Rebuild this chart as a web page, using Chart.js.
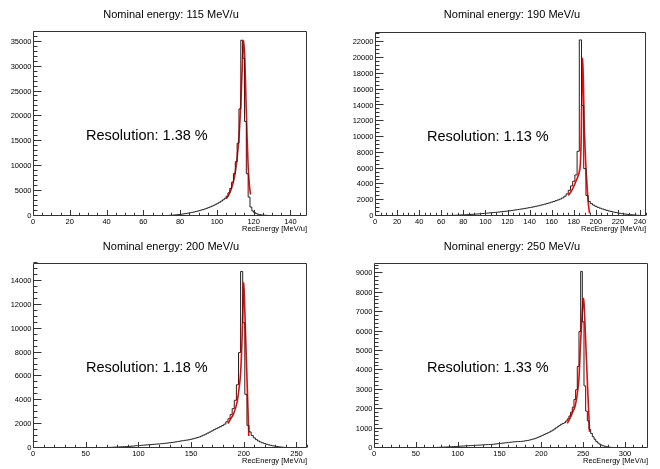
<!DOCTYPE html>
<html>
<head>
<meta charset="utf-8">
<script src="https://cdn.jsdelivr.net/npm/chart.js@4.4.0/dist/chart.umd.min.js"></script>
<style>
  html, body { margin: 0; padding: 0; background: #fff; }
  body { width: 660px; height: 469px; position: relative; overflow: hidden;
         font-family: "Liberation Sans", Arial, Helvetica, sans-serif; color: #000; }
  .pad { position: absolute; width: 330px; }
  .pad canvas { position: absolute; left: 0; top: 0; }
  .title { position: absolute; font-size: 11px; line-height: 13px; white-space: nowrap; transform: translateX(-50%); }
  .res { position: absolute; font-size: 14.5px; line-height: 17px; white-space: nowrap; }
</style>
</head>
<body>

<div class="pad" style="left:0;top:0;height:234px">
  <canvas id="pad1" width="330" height="234"></canvas>
  <div class="title" style="left:171px;top:8px">Nominal energy: 115 MeV/u</div>
  <div class="res" style="left:86px;top:127px">Resolution: 1.38 %</div>
</div>
<div class="pad" style="left:330px;top:0;height:234px">
  <canvas id="pad2" width="330" height="234"></canvas>
  <div class="title" style="left:182px;top:8px">Nominal energy: 190 MeV/u</div>
  <div class="res" style="left:97px;top:128px">Resolution: 1.13 %</div>
</div>
<div class="pad" style="left:0;top:234px;height:235px">
  <canvas id="pad3" width="330" height="235"></canvas>
  <div class="title" style="left:171px;top:6px">Nominal energy: 200 MeV/u</div>
  <div class="res" style="left:86px;top:125px">Resolution: 1.18 %</div>
</div>
<div class="pad" style="left:330px;top:234px;height:235px">
  <canvas id="pad4" width="330" height="235"></canvas>
  <div class="title" style="left:182px;top:6px">Nominal energy: 250 MeV/u</div>
  <div class="res" style="left:97px;top:125px">Resolution: 1.33 %</div>
</div>

<script>
// --- 115 MeV/u : bins of 1 MeV/u starting at 66
const e115Start = 66, e115Bin = 1;
const e115Counts = [
  10, 15, 25, 35, 55, 65, 80, 95, 115, 135,
  160, 190, 220, 260, 300, 345, 395, 450, 510, 575,
  645, 720, 800, 885, 975, 1075, 1180, 1290, 1410, 1540,
  1680, 1830, 1990, 2160, 2350, 2550, 2760, 2990, 3240, 3550,
  3950, 4650, 5550, 6800, 8500, 10900, 14600, 21500, 35300, 31700,
  19000, 8500, 3800, 1800, 1000, 680, 480, 350, 270, 210,
  170, 140, 115, 95, 80, 68, 57, 48, 40, 33,
  27, 22, 17, 12
];
const e115FitE = [105, 106, 107, 108, 109, 110, 111, 112, 113, 113.8, 114.5, 115.2, 115.8, 116.4, 117, 117.6, 118.3];
const e115FitY = [3450, 3950, 4650, 5600, 6900, 8800, 11600, 15800, 22500, 30000, 35300, 31500, 23500, 16000, 10000, 6500, 4300];

// --- 190 MeV/u : bins of 2 MeV/u starting at 59
const e190Start = 59, e190Bin = 2;
const e190Counts = [
  20, 30, 40, 50, 60, 70, 80, 90, 100, 115,
  130, 145, 160, 175, 190, 210, 230, 250, 270, 295,
  320, 345, 370, 395, 420, 445, 470, 500, 530, 560,
  590, 625, 660, 700, 740, 780, 820, 865, 910, 960,
  1010, 1060, 1110, 1170, 1230, 1290, 1360, 1430, 1500, 1580,
  1660, 1750, 1840, 1940, 2040, 2150, 2280, 2500, 2800, 3250,
  3800, 4400, 5200, 8200, 22300, 14000, 6000, 2600, 1850, 1560,
  1380, 1230, 1100, 990, 890, 800, 715, 640, 570, 505,
  445, 390, 340, 295, 255, 220, 190, 160, 135, 110,
  90, 70, 50
];
const e190FitE = [175, 178, 180.5, 182.6, 184, 185, 186, 186.8, 187.5, 188, 188.6, 189.4, 190.4, 191.4, 192.4, 193.4, 194.3];
const e190FitY = [2600, 3200, 3900, 4600, 5100, 5600, 6700, 10400, 16800, 20000, 17500, 12000, 8000, 5200, 3000, 1300, 340];

// --- 200 MeV/u : bins of 2 MeV/u starting at 61
const e200Start = 61, e200Bin = 2;
const e200Counts = [
  10, 20, 30, 35, 40, 45, 50, 55, 65, 75,
  80, 90, 100, 110, 120, 130, 140, 155, 170, 190,
  200, 215, 230, 245, 260, 270, 285, 300, 320, 330,
  345, 360, 380, 400, 420, 440, 460, 490, 520, 550,
  580, 610, 640, 660, 690, 730, 770, 820, 870, 920,
  1000, 1080, 1160, 1250, 1340, 1430, 1530, 1620, 1700, 1790,
  1880, 2000, 2200, 2450, 2800, 3300, 4000, 5300, 8000, 14800,
  10500, 4500, 1900, 1350, 1050, 850, 700, 590, 500, 430,
  370, 310, 260, 220, 180, 150, 120, 95, 75, 58,
  45, 32, 22, 12
];
const e200FitE = [185, 188, 190, 192, 194, 195.5, 197, 198.5, 199.4, 200, 200.8, 201.8, 202.8, 203.8, 204.8];
const e200FitY = [2040, 2500, 2800, 3300, 4000, 5000, 6300, 9500, 12500, 13900, 12000, 9250, 6500, 3750, 1000];

// --- 250 MeV/u : bins of 2 MeV/u starting at 61
const e250Start = 61, e250Bin = 2;
const e250Counts = [
  10, 12, 15, 18, 20, 22, 25, 28, 30, 35,
  38, 42, 46, 50, 55, 60, 65, 70, 75, 80,
  85, 90, 95, 100, 105, 110, 115, 120, 125, 130,
  135, 140, 145, 150, 155, 160, 165, 170, 175, 180,
  185, 190, 200, 210, 220, 230, 240, 250, 260, 270,
  280, 290, 300, 310, 320, 325, 330, 335, 340, 350,
  360, 375, 390, 410, 430, 455, 480, 510, 545, 580,
  620, 660, 700, 740, 780, 820, 870, 920, 980, 1040,
  1100, 1160, 1220, 1260, 1300, 1390, 1500, 1650, 1850, 2100,
  2500, 3000, 4200, 6000, 9100, 6500, 3200, 1900, 1400, 950,
  750, 580, 450, 340, 260, 200, 150, 115, 90, 70,
  50, 40, 30, 20, 15, 10, 8, 5, 3
];
const e250FitE = [231, 235, 238, 240, 242, 243, 245, 247, 248.7, 249.8, 250.6, 251.5, 252.5, 253.5, 254.5, 255.5, 256.6, 257.7];
const e250FitY = [1270, 1600, 1900, 2100, 2500, 2800, 3600, 5500, 6800, 7500, 7710, 7080, 6040, 5000, 3960, 2920, 1880, 830];

const FONT = '"Liberation Sans", Arial, Helvetica, sans-serif';

// ROOT style frame with inward major/minor ticks
const rootFrame = {
  id: 'rootFrame',
  afterDatasetsDraw(chart, args, o) {
    const { ctx, chartArea: a, scales: { x, y } } = chart;
    const L = Math.round(a.left) + 0.5, R = Math.round(a.right) - 0.5;
    const T = Math.round(a.top) + 0.5, B = Math.round(a.bottom) - 0.5;
    ctx.save();
    ctx.strokeStyle = '#333';
    ctx.lineWidth = 1;
    ctx.beginPath();
    ctx.rect(L, T, R - L, B - T);
    eachTick(x.min, x.max, o.xMinor, o.xMajor, (v, major) => {
      const px = Math.round(x.getPixelForValue(v)) + 0.5;
      ctx.moveTo(px, B);
      ctx.lineTo(px, B - (major ? o.xLen : o.xLen / 2));
    });
    eachTick(y.min, y.max, o.yMinor, o.yMajor, (v, major) => {
      const py = Math.round(y.getPixelForValue(v)) - 0.5;
      ctx.moveTo(L, py);
      ctx.lineTo(L + (major ? o.yLen : o.yLen / 2), py);
    });
    ctx.stroke();
    ctx.restore();
  }
};

function eachTick(min, max, minor, major, fn) {
  for (let i = Math.ceil(min / minor); i * minor <= max; i++) {
    const v = i * minor;
    const r = v / major;
    fn(v, Math.abs(r - Math.round(r)) < 1e-6);
  }
}

// major tick values only, 0..max
function majorTicks(max, step) {
  const out = [];
  for (let v = 0; v <= max; v += step) out.push({ value: v });
  return out;
}

function histPoints(start, bin, counts) {
  const pts = [{ x: start, y: 0 }];
  counts.forEach((c, i) => pts.push({ x: start + i * bin, y: c }));
  pts.push({ x: start + counts.length * bin, y: 0 });
  return pts;
}

function makePad(id, p) {
  const canvas = document.getElementById(id);
  const W = canvas.width, H = canvas.height;
  const tickFont = { family: FONT, size: 7.5 };
  return new Chart(canvas, {
    type: 'line',
    data: {
      datasets: [
        {
          data: histPoints(p.start, p.bin, p.counts),
          stepped: 'after',
          borderColor: '#222',
          borderWidth: 1,
          pointRadius: 0,
          fill: false,
        },
        {
          data: p.fitE.map((e, i) => ({ x: e, y: p.fitY[i] })),
          borderColor: '#ff0000',
          borderWidth: 1.6,
          pointRadius: 0,
          cubicInterpolationMode: 'monotone',
          fill: false,
        },
      ],
    },
    options: {
      responsive: false,
      animation: false,
      devicePixelRatio: 1,
      layout: { padding: { left: 0, top: p.area[1], right: W - p.area[2], bottom: 0 } },
      plugins: {
        legend: { display: false },
        tooltip: { enabled: false },
        rootFrame: { xMajor: p.xMajor, xMinor: p.xMinor, yMajor: p.yMajor, yMinor: p.yMinor, xLen: 5.5, yLen: 8 },
      },
      scales: {
        x: {
          type: 'linear',
          bounds: 'data',
          min: 0,
          max: p.xMax,
          grid: { display: false, drawTicks: false },
          border: { display: false },
          ticks: {
            autoSkip: false, maxRotation: 0, padding: 1,
            color: '#000', font: tickFont, callback: v => String(v),
          },
          afterBuildTicks: s => { s.ticks = majorTicks(p.xMax, p.xMajor); },
          title: {
            display: true, text: 'RecEnergy [MeV/u]', align: 'end', color: '#000', font: tickFont,
            padding: { top: 0, bottom: Math.max(0, H - (p.area[3] + 13) - 4.5) },
          },
          afterFit: s => { s.height = H - p.area[3]; },
        },
        y: {
          type: 'linear',
          bounds: 'data',
          min: 0,
          max: p.yMax,
          grid: { display: false, drawTicks: false },
          border: { display: false },
          ticks: {
            autoSkip: false, padding: 1.5,
            color: '#000', font: tickFont, callback: v => String(v),
          },
          afterBuildTicks: s => { s.ticks = majorTicks(p.yMax, p.yMajor); },
          afterFit: s => { s.width = p.area[0]; },
        },
      },
    },
    plugins: [rootFrame],
  });
}

makePad('pad1', {
  start: e115Start, bin: e115Bin, counts: e115Counts, fitE: e115FitE, fitY: e115FitY,
  area: [33, 31, 307, 216], xMax: 149, yMax: 37150, xMajor: 20, xMinor: 5, yMajor: 5000, yMinor: 1000,
});
makePad('pad2', {
  start: e190Start, bin: e190Bin, counts: e190Counts, fitE: e190FitE, fitY: e190FitY,
  area: [45, 32, 316, 216], xMax: 245.4, yMax: 23305, xMajor: 20, xMinor: 5, yMajor: 2000, yMinor: 500,
});
makePad('pad3', {
  start: e200Start, bin: e200Bin, counts: e200Counts, fitE: e200FitE, fitY: e200FitY,
  area: [33, 29, 307, 214], xMax: 260, yMax: 15509, xMajor: 50, xMinor: 10, yMajor: 2000, yMinor: 500,
});
makePad('pad4', {
  start: e250Start, bin: e250Bin, counts: e250Counts, fitE: e250FitE, fitY: e250FitY,
  area: [44, 29, 318, 214], xMax: 327.5, yMax: 9530, xMajor: 50, xMinor: 10, yMajor: 1000, yMinor: 200,
});
</script>
</body>
</html>
